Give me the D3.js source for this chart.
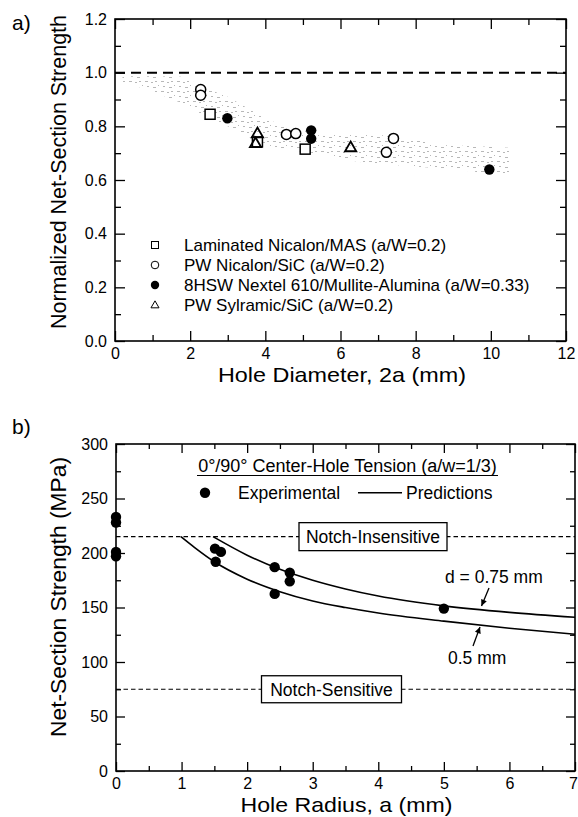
<!DOCTYPE html>
<html><head><meta charset="utf-8">
<script src="https://cdn.jsdelivr.net/npm/d3@7"></script>
<style>
body{margin:0;background:#fff;}
text{font-family:"Liberation Sans",Arial,Helvetica,sans-serif;fill:#000;}
</style></head>
<body>
<svg id="c" width="578" height="817"></svg>
<script>
// ---------- Panel a) data ----------
const xTicksA = [0,2,4,6,8,10,12];
const yTicksA = [0,0.2,0.4,0.6,0.8,1.0,1.2];
const lamX = [2.53, 3.79, 5.06];            // Laminated Nicalon/MAS (squares)
const lamY = [0.845, 0.742, 0.715];
const pwnX = [2.28, 2.28, 4.56, 4.81, 7.41, 7.22];   // PW Nicalon/SiC (open circles)
const pwnY = [0.937, 0.916, 0.770, 0.773, 0.755, 0.703];
const nexX = [2.99, 5.22, 5.22, 9.96];       // 8HSW Nextel 610 (filled circles)
const nexY = [0.830, 0.785, 0.754, 0.639];
const sylX = [3.79, 3.74, 6.27];             // PW Sylramic/SiC (triangles)
const sylY = [0.775, 0.738, 0.723];
const bandX = [0.2, 1.0, 1.8, 2.5, 3.0, 4.0, 4.5, 5.3, 6.5, 7.5, 8.7, 9.5, 10.5];
const bandTop = [0.987, 0.987, 0.985, 0.937, 0.91, 0.83, 0.80, 0.775, 0.77, 0.765, 0.73, 0.727, 0.72];
const bandBottom = [0.966, 0.93, 0.885, 0.83, 0.80, 0.73, 0.715, 0.70, 0.667, 0.655, 0.643, 0.632, 0.617];
const refLineA = 1.0;
const legendA = ["Laminated Nicalon/MAS (a/W=0.2)", "PW Nicalon/SiC (a/W=0.2)",
                 "8HSW Nextel 610/Mullite-Alumina (a/W=0.33)", "PW Sylramic/SiC (a/W=0.2)"];

// ---------- Panel b) data ----------
const xTicksB = [0,1,2,3,4,5,6,7];
const yTicksB = [0,50,100,150,200,250,300];
const expX = [0, 0, 0, 0, 1.51, 1.60, 1.52, 2.42, 2.65, 2.65, 2.42, 5.0];
const expY = [233, 228, 201, 197, 204, 201, 192, 187, 182, 174, 162.5, 149];
const predUpX = [1.48, 2.0, 2.5, 3.0, 3.5, 4.0, 5.0, 6.0, 7.0];     // d = 0.75 mm
const predUpY = [215, 198, 185, 175, 167, 160.5, 151.5, 145.5, 141];
const predLoX = [0.99, 1.2, 1.5, 2.0, 2.5, 3.0, 3.5, 4.0, 5.0, 6.0, 7.0]; // d = 0.5 mm
const predLoY = [215, 205, 192, 176, 164.5, 156, 150, 145, 137.5, 131, 125.5];
const insensitive = 215, sensitive = 75;

const svg = d3.select("#c");
const FONT = "'Liberation Sans',Arial,Helvetica,sans-serif";

function frameAxes(g, x, y, xMaj, xMin, yMaj, yMin, majLen, minLen, yFmt, xFmt) {
  const x0 = x.range()[0], x1 = x.range()[1], y0 = y.range()[0], y1 = y.range()[1];
  const add = (axis, tr) => {
    const a = g.append("g").attr("transform", tr).call(axis);
    a.select(".domain").remove();
    a.selectAll("line").attr("stroke", "#000").attr("stroke-width", 1.3);
    a.selectAll("text").style("font-family", FONT).style("font-size", "16px").attr("fill", "#000");
    return a;
  };
  const xb = add(d3.axisBottom(x).tickValues(xMaj).tickSize(-majLen).tickPadding(7).tickFormat(xFmt), `translate(0,${y0})`);
  xb.selectAll("text").filter((d, i, n) => i === n.length - 1 && x(d) > 570).attr("dx", -2);
  add(d3.axisBottom(x).tickValues(xMin).tickSize(-minLen).tickFormat(""), `translate(0,${y0})`);
  add(d3.axisTop(x).tickValues(xMaj).tickSize(-majLen).tickFormat(""), `translate(0,${y1})`);
  add(d3.axisTop(x).tickValues(xMin).tickSize(-minLen).tickFormat(""), `translate(0,${y1})`);
  add(d3.axisLeft(y).tickValues(yMaj).tickSize(-majLen).tickPadding(8).tickFormat(yFmt), `translate(${x0},0)`);
  add(d3.axisLeft(y).tickValues(yMin).tickSize(-minLen).tickFormat(""), `translate(${x0},0)`);
  add(d3.axisRight(y).tickValues(yMaj).tickSize(-majLen).tickFormat(""), `translate(${x1},0)`);
  add(d3.axisRight(y).tickValues(yMin).tickSize(-minLen).tickFormat(""), `translate(${x1},0)`);
  g.append("rect").attr("x", x0).attr("y", y1).attr("width", x1 - x0).attr("height", y0 - y1)
    .attr("fill", "none").attr("stroke", "#000").attr("stroke-width", 1.6);
}

// pattern for the scatter band
const defs = svg.append("defs");
const pat = defs.append("pattern").attr("id", "band").attr("patternUnits", "userSpaceOnUse")
  .attr("width", 16).attr("height", 10);
[[1,1,3,1],[7,2,2,1],[11,1,2,1],[3,6,2,1],[9,7,3,1],[14,5,1,1]].forEach(r =>
  pat.append("rect").attr("x", r[0]).attr("y", r[1]).attr("width", r[2]).attr("height", r[3]).attr("fill", "#b8b8b8"));

// ================= Panel a =================
const xa = d3.scaleLinear().domain([0, 12]).range([115, 566]);
const ya = d3.scaleLinear().domain([0, 1.2]).range([341, 19]);
const ga = svg.append("g");

const bandPts = bandX.map((d, i) => [xa(d), ya(bandTop[i])])
  .concat(bandX.map((d, i) => [xa(d), ya(bandBottom[i])]).reverse());
ga.append("path").attr("d", d3.line().curve(d3.curveLinearClosed)(bandPts))
  .attr("fill", "url(#band)").attr("stroke", "none");

ga.append("line").attr("x1", xa(0)).attr("x2", xa(12)).attr("y1", ya(refLineA)).attr("y2", ya(refLineA))
  .attr("stroke", "#000").attr("stroke-width", 2).attr("stroke-dasharray", "10,6");

const sqS = 10;
ga.selectAll(".lam").data(lamX).enter().append("rect")
  .attr("x", (d) => xa(d) - sqS / 2).attr("y", (d, i) => ya(lamY[i]) - sqS / 2)
  .attr("width", sqS).attr("height", sqS).attr("fill", "#fff").attr("stroke", "#000").attr("stroke-width", 1.5);
const tri = d3.symbol().type(d3.symbolTriangle).size(55);
ga.selectAll(".syl").data(sylX).enter().append("path").attr("d", tri)
  .attr("transform", (d, i) => `translate(${xa(d)},${ya(sylY[i]) + 1})`)
  .attr("fill", "none").attr("stroke", "#000").attr("stroke-width", 1.8);
ga.selectAll(".pwn").data(pwnX).enter().append("circle")
  .attr("cx", (d) => xa(d)).attr("cy", (d, i) => ya(pwnY[i])).attr("r", 5)
  .attr("fill", "#fff").attr("stroke", "#000").attr("stroke-width", 1.5);
ga.selectAll(".nex").data(nexX).enter().append("circle")
  .attr("cx", (d) => xa(d)).attr("cy", (d, i) => ya(nexY[i])).attr("r", 5.2).attr("fill", "#000");

frameAxes(ga, xa, ya, xTicksA, [1,3,5,7,9,11], yTicksA, [0.1,0.3,0.5,0.7,0.9,1.1], 10, 6,
  d3.format(".1f"), d3.format("d"));

// legend a
const legYs = [245, 265, 285, 305];
const lg = ga.append("g");
lg.append("rect").attr("x", 151.5).attr("y", legYs[0] - 3.5).attr("width", 7).attr("height", 7)
  .attr("fill", "none").attr("stroke", "#000").attr("stroke-width", 1);
lg.append("circle").attr("cx", 155).attr("cy", legYs[1]).attr("r", 3.8).attr("fill", "none").attr("stroke", "#000").attr("stroke-width", 1);
lg.append("circle").attr("cx", 155).attr("cy", legYs[2]).attr("r", 4.2).attr("fill", "#000");
lg.append("path").attr("d", d3.symbol().type(d3.symbolTriangle).size(28))
  .attr("transform", `translate(155,${legYs[3] + 0.5})`).attr("fill", "none").attr("stroke", "#000").attr("stroke-width", 1);
legendA.forEach((t, i) => lg.append("text").attr("x", 184).attr("y", legYs[i]).attr("dy", "0.36em")
  .style("font-size", "17px").text(t));

ga.append("text").attr("x", 342).attr("y", 382).attr("text-anchor", "middle").style("font-size", "21px")
  .attr("textLength", 248).attr("lengthAdjust", "spacingAndGlyphs").text("Hole Diameter, 2a (mm)");
ga.append("text").attr("transform", "translate(66,172) rotate(-90)").attr("text-anchor", "middle")
  .style("font-size", "22px").attr("textLength", 314).attr("lengthAdjust", "spacingAndGlyphs")
  .text("Normalized Net-Section Strength");
ga.append("text").attr("x", 12).attr("y", 30).style("font-size", "21px").text("a)");

// ================= Panel b =================
const xb = d3.scaleLinear().domain([0, 7]).range([116, 575]);
const yb = d3.scaleLinear().domain([0, 300]).range([771, 444]);
const gb = svg.append("g");

[insensitive, sensitive].forEach(v => gb.append("line").attr("x1", xb(0)).attr("x2", xb(7))
  .attr("y1", yb(v)).attr("y2", yb(v)).attr("stroke", "#000").attr("stroke-width", 1.1).attr("stroke-dasharray", "4.5,3"));

const line = d3.line().curve(d3.curveMonotoneX);
gb.append("path").attr("d", line(predUpX.map((d, i) => [xb(d), yb(predUpY[i])])))
  .attr("fill", "none").attr("stroke", "#000").attr("stroke-width", 1.6);
gb.append("path").attr("d", line(predLoX.map((d, i) => [xb(d), yb(predLoY[i])])))
  .attr("fill", "none").attr("stroke", "#000").attr("stroke-width", 1.6);

gb.selectAll(".exp").data(expX).enter().append("circle")
  .attr("cx", (d) => xb(d)).attr("cy", (d, i) => yb(expY[i])).attr("r", 5.2).attr("fill", "#000");

frameAxes(gb, xb, yb, xTicksB, [0.5,1.5,2.5,3.5,4.5,5.5,6.5], yTicksB, [25,75,125,175,225,275], 9, 5,
  d3.format("d"), d3.format("d"));

// boxes
function box(cx, cy, w, h, t) {
  gb.append("rect").attr("x", cx - w / 2).attr("y", cy - h / 2).attr("width", w).attr("height", h)
    .attr("fill", "#fff").attr("stroke", "#000").attr("stroke-width", 1.3);
  gb.append("text").attr("x", cx).attr("y", cy).attr("dy", "0.36em").attr("text-anchor", "middle")
    .style("font-size", "17.5px").text(t);
}
box(373, yb(insensitive), 148, 28, "Notch-Insensitive");
box(331.5, yb(sensitive), 140, 27, "Notch-Sensitive");

// title + legend
gb.append("text").attr("x", 347.5).attr("y", 472).attr("text-anchor", "middle").style("font-size", "18px")
  .text("0°/90° Center-Hole Tension (a/w=1/3)");
gb.append("line").attr("x1", 197).attr("x2", 498).attr("y1", 475.5).attr("y2", 475.5).attr("stroke", "#000").attr("stroke-width", 1.1);
gb.append("circle").attr("cx", 205).attr("cy", 492.7).attr("r", 5.2).attr("fill", "#000");
gb.append("text").attr("x", 238).attr("y", 492.7).attr("dy", "0.36em").style("font-size", "17.5px").text("Experimental");
gb.append("line").attr("x1", 358).attr("x2", 402).attr("y1", 492.7).attr("y2", 492.7).attr("stroke", "#000").attr("stroke-width", 1.5);
gb.append("text").attr("x", 406).attr("y", 492.7).attr("dy", "0.36em").style("font-size", "17.5px").text("Predictions");

// curve labels + arrows
function arrow(x1, y1, x2, y2) {
  gb.append("line").attr("x1", x1).attr("y1", y1).attr("x2", x2).attr("y2", y2).attr("stroke", "#000").attr("stroke-width", 1.3);
  const a = Math.atan2(y2 - y1, x2 - x1), L = 7, s = 0.45;
  gb.append("path").attr("d", `M${x2},${y2}L${x2 - L * Math.cos(a - s)},${y2 - L * Math.sin(a - s)}L${x2 - L * Math.cos(a + s)},${y2 - L * Math.sin(a + s)}Z`)
    .attr("fill", "#000");
}
gb.append("text").attr("x", 445).attr("y", 583).style("font-size", "17.5px").text("d = 0.75 mm");
arrow(489, 588, 481.5, 606);
gb.append("text").attr("x", 448).attr("y", 664).style("font-size", "17.5px").text("0.5 mm");
arrow(473, 646, 480, 627);

gb.append("text").attr("x", 346.5).attr("y", 812).attr("text-anchor", "middle").style("font-size", "21px")
  .attr("textLength", 212).attr("lengthAdjust", "spacingAndGlyphs").text("Hole Radius, a (mm)");
gb.append("text").attr("transform", "translate(66,597) rotate(-90)").attr("text-anchor", "middle")
  .style("font-size", "22.5px").attr("textLength", 280).attr("lengthAdjust", "spacingAndGlyphs")
  .text("Net-Section Strength (MPa)");
gb.append("text").attr("x", 12).attr("y", 434).style("font-size", "21px").text("b)");
</script>
</body></html>
